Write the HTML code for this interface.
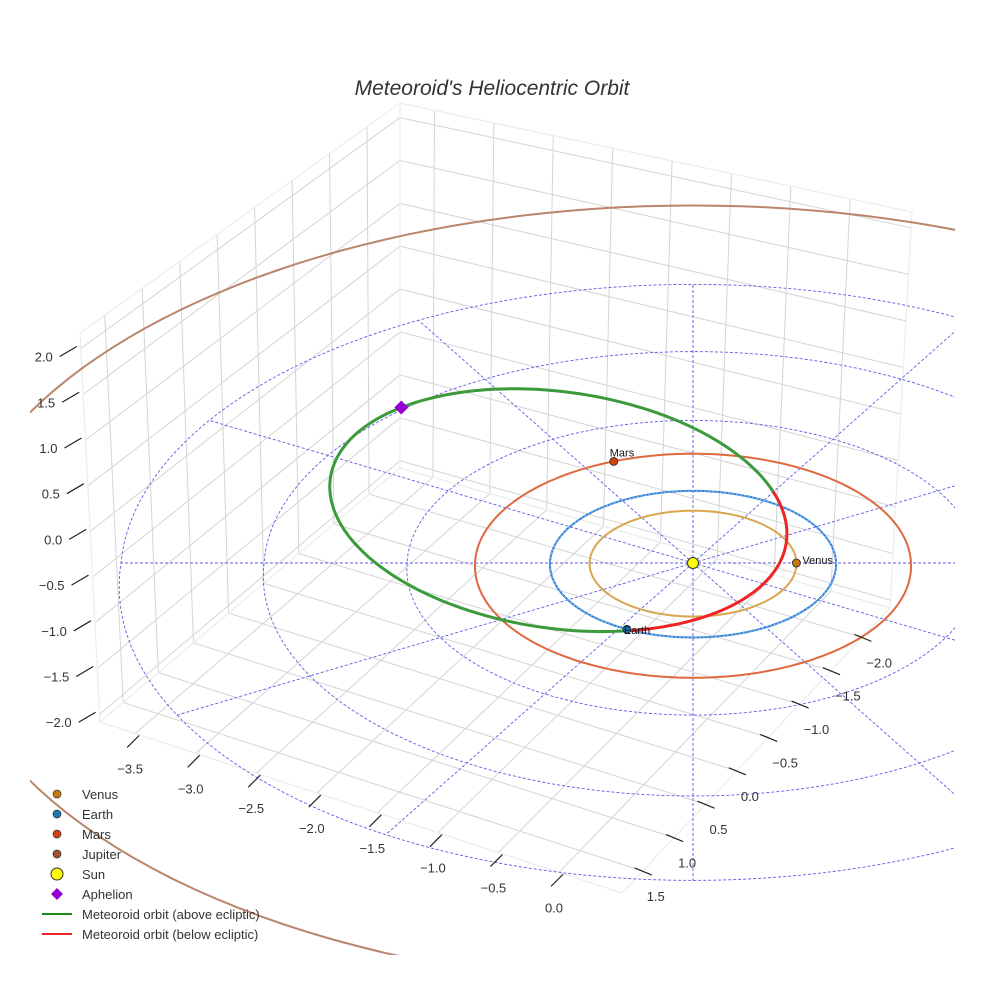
<!DOCTYPE html>
<html><head><meta charset="utf-8"><style>
body{margin:0;background:#fff;}
svg{display:block;font-family:"Liberation Sans",sans-serif;}
</style></head><body>
<svg id="chart" width="984" height="984" viewBox="0 0 984 984" xmlns="http://www.w3.org/2000/svg">
<rect width="984" height="984" fill="#fff"/>
<defs><clipPath id="plotclip"><rect x="30" y="60" width="925" height="895"/></clipPath></defs>
<text x="492" y="95" text-anchor="middle" font-size="21" font-style="italic" fill="#333">Meteoroid's Heliocentric Orbit</text>
<g id="box"></g>
<g id="plot" clip-path="url(#plotclip)"></g>
<g id="ticks"></g>
<g id="legend"></g>
</svg>
<script>
// ---- data ----
const xTicks = [-3.5,-3.0,-2.5,-2.0,-1.5,-1.0,-0.5,0.0];
const yTicks = [1.5,1.0,0.5,0.0,-0.5,-1.0,-1.5,-2.0];
const zTicks = [2.0,1.5,1.0,0.5,0.0,-0.5,-1.0,-1.5,-2.0];
const planetNames = ["Venus","Earth","Mars","Jupiter"];
const planetRadii = [0.723,1.0,1.524,5.203];
const planetAngles = [0,243,111.7,40];
const planetOrbitColors = ["#d9a54e","#2f7fd8","#e0683f","#b9856b"];
const planetMarkerColors = ["#c7780f","#1f77b4","#d2430d","#a0522d"];
const gridRadii = [1,2,3,4];
const gridAngles = [0,30,60,90,120,150,180,210,240,270,300,330];
const meteorCenter = [-0.95,0.73];
const meteorAxes = [1.61,1.62];
const meteorTilt = [8];
const belowRange = [-0.42,1.2];
const aphelionT = [-2.4];

// ---- axes / projection ----
const xRange=[-3.79,0.52], yRange=[-2.44,1.83], zRange=[-2.085,2.17];
const L=[100,722],B=[400,468],R=[890,608],F=[622,893],Lt=[80,333],Bt=[400,103],Rt=[912,212];
const SUN=[693,563], SX=143, SY=73;
function ecl(u,v){const f=v>0?1/(1+0.012*v):1/(1+0.02*v);return [SUN[0]+SX*u*f, SUN[1]-SY*v*f];}
function polar(r,deg){const a=deg*Math.PI/180;return ecl(r*Math.cos(a),r*Math.sin(a));}
function lerp(a,b,t){return [a[0]+(b[0]-a[0])*t,a[1]+(b[1]-a[1])*t];}
function quad(p00,p10,p01,p11,s,t){return lerp(lerp(p00,p10,s),lerp(p01,p11,s),t);}
const fx=x=>(x-xRange[0])/(xRange[1]-xRange[0]);
const fy=y=>(yRange[1]-y)/(yRange[1]-yRange[0]);
const fz=z=>(z-zRange[0])/(zRange[1]-zRange[0]);
const NS="http://www.w3.org/2000/svg";
function mk(tag,attrs,parent){const e=document.createElementNS(NS,tag);for(const k in attrs)e.setAttribute(k,attrs[k]);parent.appendChild(e);return e;}
function line(p,q,attrs,parent){return mk("line",Object.assign({x1:p[0],y1:p[1],x2:q[0],y2:q[1]},attrs),parent);}
const box=document.getElementById("box"),plot=document.getElementById("plot"),ticks=document.getElementById("ticks"),legend=document.getElementById("legend");
const gs={stroke:"#d4d4d4","stroke-width":1};

zTicks.forEach(z=>{const t=fz(z);
  let e=line(quad(L,B,Lt,Bt,0,t),quad(L,B,Lt,Bt,1,t),gs,box);
  
  
  e=line(quad(B,R,Bt,Rt,0,t),quad(B,R,Bt,Rt,1,t),gs,box);
  
  });
yTicks.forEach(y=>{const s=fy(y);
  let e=line(quad(L,B,Lt,Bt,s,0),quad(L,B,Lt,Bt,s,1),gs,box);
  
  
  e=line(quad(L,F,B,R,0,s),quad(L,F,B,R,1,s),gs,box);
  
  });
xTicks.forEach(x=>{const s=fx(x);
  let e=line(quad(B,R,Bt,Rt,s,0),quad(B,R,Bt,Rt,s,1),gs,box);
  
  
  e=line(quad(L,F,B,R,s,0),quad(L,F,B,R,s,1),gs,box);
  
  });
const es={stroke:"#ececec","stroke-width":1.2};
[[L,Lt],[Lt,Bt],[Bt,Rt],[Rt,R],[B,Bt],[L,B],[B,R],[L,F],[F,R]].forEach(pq=>{const e=line(pq[0],pq[1],es,box);
  
  });

const ts={stroke:"#222","stroke-width":1.2};
zTicks.forEach(z=>{const p=lerp(L,Lt,fz(z));
  const e=line([p[0]-21,p[1]+8],[p[0]-4,p[1]-2],ts,ticks);
  
  
  const t=mk("text",{x:p[0]-28,y:p[1]+13,"text-anchor":"end","font-size":13,fill:"#333"},ticks);t.textContent=z.toFixed(1).replace("-","\u2212");
  
  });
xTicks.forEach(x=>{const p=lerp(L,F,fx(x));
  const e=line([p[0]+4,p[1]+2],[p[0]-8,p[1]+14],ts,ticks);
  
  
  const t=mk("text",{x:p[0]-5,y:p[1]+40,"text-anchor":"middle","font-size":13,fill:"#333"},ticks);t.textContent=x.toFixed(1).replace("-","\u2212");
  
  });
yTicks.forEach(y=>{const p=lerp(F,R,fy(y));
  const e=line([p[0]-8,p[1]-3],[p[0]+9,p[1]+4],ts,ticks);
  
  
  const t=mk("text",{x:p[0]+4,y:p[1]+30,"text-anchor":"start","font-size":13,fill:"#333"},ticks);t.textContent=y.toFixed(1).replace("-","\u2212");
  
  });

function ellipsePath(r){let d="";for(let i=0;i<=180;i++){const p=polar(r,i*2);d+=(i?"L":"M")+p[0].toFixed(1)+" "+p[1].toFixed(1);}return d;}
const ds={fill:"none",stroke:"#5b5be6","stroke-width":0.9,"stroke-dasharray":"3,2"};
gridRadii.forEach(r=>{const e=mk("path",Object.assign({d:ellipsePath(r)},ds),plot);
  
  });
gridAngles.forEach(a=>{const e=line(polar(0,a),polar(gridRadii[gridRadii.length-1],a),ds,plot);
  
  });

planetRadii.forEach((r,i)=>{const e=mk("path",{d:ellipsePath(r),fill:"none",stroke:planetOrbitColors[i],"stroke-width":2},plot);
  
  });
mk("path",{d:ellipsePath(planetRadii[1]),fill:"none",stroke:"#8fc3f0","stroke-width":1,"stroke-dasharray":"2,2"},plot);

function mpt(t){const ph=meteorTilt[0]*Math.PI/180;const c=ecl(meteorCenter[0],meteorCenter[1]);const a=meteorAxes[0]*SX,b=meteorAxes[1]*SY;
  return [c[0]+a*Math.cos(t)*Math.cos(ph)-b*Math.sin(t)*Math.sin(ph), c[1]+a*Math.cos(t)*Math.sin(ph)+b*Math.sin(t)*Math.cos(ph)];}
function arc(t0,t1){let d="";const n=120;for(let i=0;i<=n;i++){const p=mpt(t0+(t1-t0)*i/n);d+=(i?"L":"M")+p[0].toFixed(1)+" "+p[1].toFixed(1);}return d;}
let g=mk("path",{d:arc(belowRange[1],belowRange[0]+2*Math.PI),fill:"none",stroke:"#3b9a3b","stroke-width":3},plot);


g=mk("path",{d:arc(belowRange[0],belowRange[1]),fill:"none",stroke:"#ee2424","stroke-width":3},plot);



planetRadii.forEach((r,i)=>{const p=polar(r,planetAngles[i]);
  const c=mk("circle",{cx:p[0],cy:p[1],r:4,fill:planetMarkerColors[i],stroke:"#222","stroke-width":0.8},plot);
  
  
  if(i<3){const t=mk("text",{x:p[0]+(i==0?6:(i==1?-3:-4)),y:p[1]+(i==0?1:(i==1?5:-5)),"font-size":11,fill:"#111"},plot);t.textContent=planetNames[i];
    
    }});
let s=mk("circle",{cx:SUN[0],cy:SUN[1],r:5.5,fill:"#ffff00",stroke:"#333","stroke-width":1},plot);


const ap=mpt(aphelionT[0]);
s=mk("path",{d:`M${ap[0]} ${ap[1]-7}L${ap[0]+7} ${ap[1]}L${ap[0]} ${ap[1]+7}L${ap[0]-7} ${ap[1]}Z`,fill:"#9400d3"},plot);



const legNames=["Venus","Earth","Mars","Jupiter","Sun","Aphelion","Meteoroid orbit (above ecliptic)","Meteoroid orbit (below ecliptic)"];
legNames.forEach((n,i)=>{const y=794+20*i;let m;
  if(i<4)m=mk("circle",{cx:57,cy:y,r:4,fill:planetMarkerColors[i],stroke:"#333","stroke-width":0.7},legend);
  else if(i==4)m=mk("circle",{cx:57,cy:y,r:6,fill:"#ffff00",stroke:"#333","stroke-width":1},legend);
  else if(i==5)m=mk("path",{d:`M57 ${y-6}L63 ${y}L57 ${y+6}L51 ${y}Z`,fill:"#9400d3"},legend);
  else m=mk("line",{x1:42,y1:y,x2:72,y2:y,stroke:i==6?"#1a8c1a":"#ee2424","stroke-width":2},legend);
  
  
  const t=mk("text",{x:82,y:y+5,"font-size":13,fill:"#333"},legend);t.textContent=n;
  
  });
</script>
</body></html>
